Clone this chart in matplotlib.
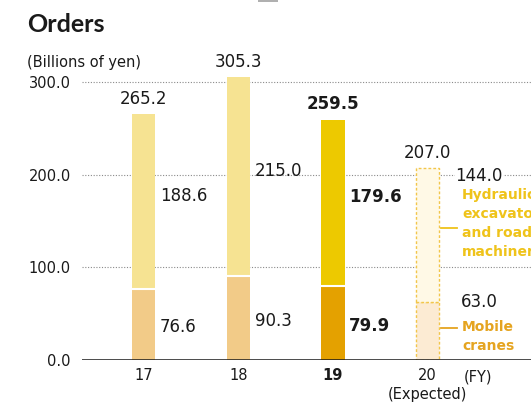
import matplotlib
matplotlib.use("Agg")
import matplotlib.pyplot as plt
import numpy as np
from matplotlib.patches import Rectangle

plt.rcParams["font.family"] = ["DejaVu Sans"]

years = ["17", "18", "19", "20"]
cranes = [76.6, 90.3, 79.9, 63.0]
hydraulic = [188.6, 215.0, 179.6, 144.0]
totals = [265.2, 305.3, 259.5, 207.0]

INK = "#1a1a1a"
TOP_COL = ["#F6E392", "#F6E392", "#EDC900", "#FFF9E6"]
BOT_COL = ["#F2CB88", "#F2CB88", "#E4A100", "#FCEBD3"]
EDGE_FC = "#F2C64A"
HYD_TXT = "#EFC31A"
MOB_TXT = "#E5A420"

fig = plt.figure(figsize=(5.31, 4.03), dpi=100)
ax = fig.add_axes([82 / 531, 1 - 360 / 403, 449 / 531, 305.8 / 403])
ax.set_ylim(0, 330)
unit = 94.7
xl = -(143.5 - 82) / unit
ax.set_xlim(xl, xl + 449 / unit)

x = np.arange(len(years))
bw = 0.245

for yv in (100, 200, 300):
    ax.axhline(yv, color="#8a8a8a", lw=0.8, ls=(0, (1, 1.5)), zorder=1)

for i in range(len(years)):
    if i < 3:
        ax.bar(x[i], cranes[i], bw, color=BOT_COL[i], lw=0, zorder=3)
        ax.bar(x[i], hydraulic[i], bw, bottom=cranes[i], color=TOP_COL[i], lw=0, zorder=3)
        ax.plot([x[i] - bw / 2, x[i] + bw / 2], [cranes[i]] * 2, color="white", lw=1.5, zorder=4)
    else:
        ax.bar(x[i], cranes[i], bw, color=BOT_COL[i], edgecolor=EDGE_FC, lw=1.0,
               ls=(0, (2, 1.5)), zorder=3)
        ax.bar(x[i], hydraulic[i], bw, bottom=cranes[i], color=TOP_COL[i],
               edgecolor=EDGE_FC, lw=1.0, ls=(0, (2, 1.5)), zorder=3)

ax.axhline(0, color=INK, lw=1.1, zorder=5)

# value labels
for i in range(3):
    w = "bold" if i == 2 else "normal"
    ax.text(x[i], totals[i] + 7, f"{totals[i]:.1f}", ha="center", va="bottom",
            fontsize=12, color=INK, weight=w)
    ax.text(x[i] + bw / 2 + 0.05, cranes[i] + hydraulic[i] / 2 + 6, f"{hydraulic[i]:.1f}",
            ha="left", va="center", fontsize=12, color=INK, weight=w)
    ax.text(x[i] + bw / 2 + 0.05, cranes[i] / 2 - 3, f"{cranes[i]:.1f}",
            ha="left", va="center", fontsize=12, color=INK, weight=w)

ax.text(x[3], totals[3] + 7, f"{totals[3]:.1f}", ha="center", va="bottom",
        fontsize=12, color=INK)
ax.text(x[3] + bw / 2 + 0.17, 199, f"{hydraulic[3]:.1f}", ha="left", va="center",
        fontsize=12, color=INK, bbox=dict(fc="white", ec="none", pad=0.5), zorder=6)
ax.text(x[3] + bw / 2 + 0.23, 63, f"{cranes[3]:.1f}", ha="left", va="center",
        fontsize=12, color=INK)

# legend labels
lx0 = x[3] + bw / 2 + 0.02
lx1 = x[3] + bw / 2 + 0.19
ax.plot([lx0, lx1], [142, 142], color=HYD_TXT, lw=1.3, zorder=6, clip_on=False)
ax.plot([lx0, lx1], [34, 34], color=MOB_TXT, lw=1.3, zorder=6, clip_on=False)
ax.text(x[3] + bw / 2 + 0.24, 147.5, "Hydraulic\nexcavators\nand road\nmachinery",
        ha="left", va="center", fontsize=10, color=HYD_TXT, weight="bold",
        linespacing=1.45, clip_on=False)
ax.text(x[3] + bw / 2 + 0.24, 25, "Mobile\ncranes", ha="left", va="center",
        fontsize=10, color=MOB_TXT, weight="bold", linespacing=1.45)

ax.set_xticks(x)
ax.set_xticklabels(years, fontsize=10.5, color=INK)
ax.get_xticklabels()[2].set_weight("bold")
ax.set_yticks([0, 100, 200, 300])
ax.set_yticklabels(["0.0", "100.0", "200.0", "300.0"], fontsize=10.5, color=INK)
ax.tick_params(length=0, pad=8)
ax.tick_params(axis="x", pad=6)
for s in ax.spines.values():
    s.set_visible(False)

fig.text(427 / 531, 1 - 394 / 403, "(Expected)", ha="center", va="center",
         fontsize=10.5, color=INK)
fig.text(478 / 531, 1 - 377 / 403, "(FY)", ha="center", va="center",
         fontsize=10.5, color=INK)
fig.text(27 / 531, 1 - 25 / 403, "Orders", ha="left", va="center",
         fontsize=18, weight="bold", color=INK, family=["Lato", "DejaVu Sans"])
fig.text(27 / 531, 1 - 62 / 403, "(Billions of yen)", ha="left", va="center",
         fontsize=10.5, color=INK)
fig.patches.append(Rectangle((258 / 531, 1 - 2 / 403), 20 / 531, 2 / 403,
                             transform=fig.transFigure, fc="#b0b0b0", ec="none"))

fig.savefig("out.png", dpi=100)
